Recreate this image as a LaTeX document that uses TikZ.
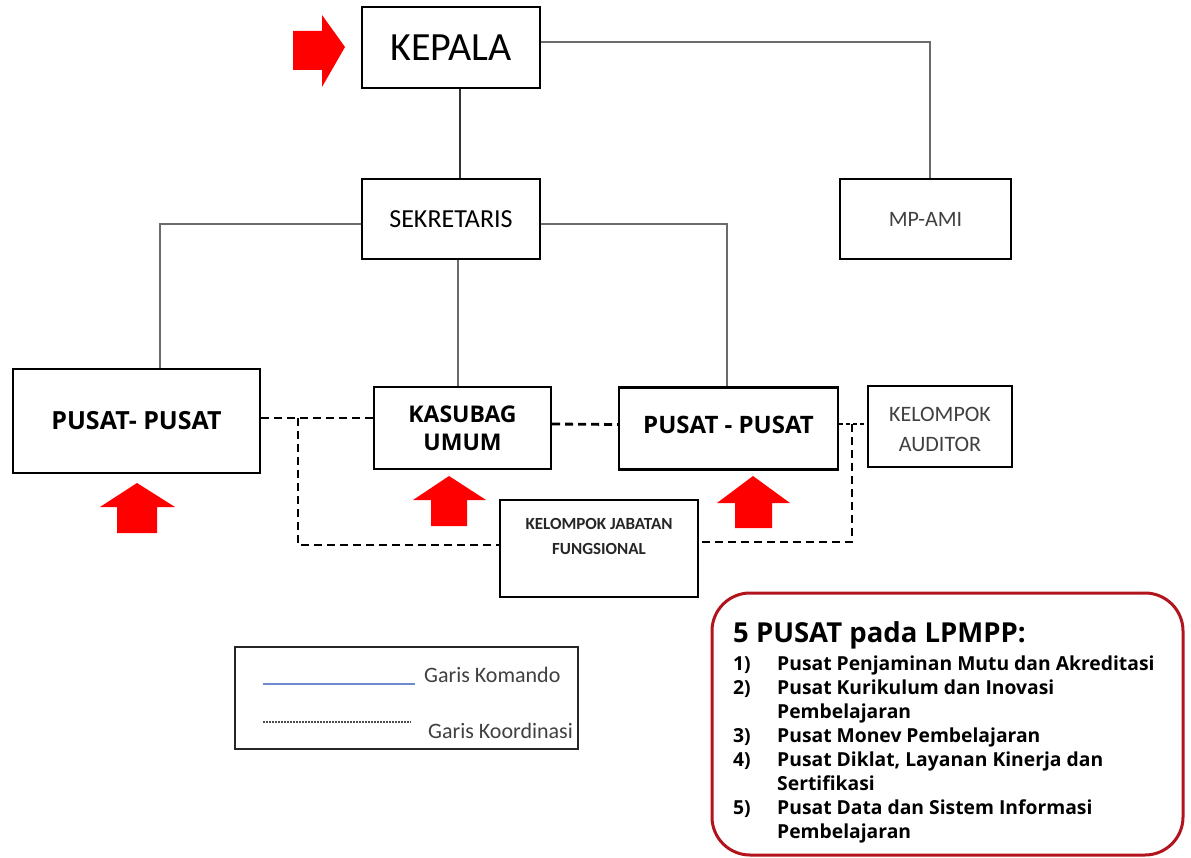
\documentclass[tikz,border=0pt]{standalone}
\usepackage{fontspec}
\setmainfont{Carlito}
\newfontfamily\osans{Open Sans}
\begin{document}
\begin{tikzpicture}[x=1pt,y=-1pt,
  box/.style={draw=black, line width=2.4pt, fill=white, inner sep=0pt, align=center},
  cmd/.style={draw=black!58, line width=1.8pt},
  koord/.style={draw=black, line width=2.8pt, dash pattern=on 8pt off 5pt},
  fine/.style={draw=black, line width=2.4pt, dash pattern=on 4pt off 3pt},
  redarrow/.style={fill=red, draw=none},
  lst/.style={anchor=base west, inner sep=0pt, font=\osans\bfseries\fontsize{19.3}{21}\selectfont},
  leg/.style={anchor=base west, inner sep=0pt, text=black!75, font=\fontsize{22}{24}\selectfont}]
\useasboundingbox (0,0) rectangle (1191,858);
\fill[white] (0,0) rectangle (1191,858);

% boxes
\node[box, minimum width=178pt, minimum height=81pt, font=\fontsize{40}{44}\selectfont] (kepala) at (451,47.5) {KEPALA};
\node[box, minimum width=178pt, minimum height=80pt, font=\fontsize{26}{30}\selectfont] (sek) at (451,219) {SEKRETARIS};
\node[box, minimum width=171pt, minimum height=80pt, font=\fontsize{22}{26}\selectfont, text=black!75] (mpami) at (925.5,219) {MP-AMI};
\node[box, minimum width=247pt, minimum height=104pt, font=\osans\bfseries\fontsize{25}{28}\selectfont] (pl) at (136.5,421) {PUSAT- PUSAT};
\node[box, minimum width=177pt, minimum height=82pt, font=\osans\bfseries\fontsize{23}{28}\selectfont] (kas) at (462.5,428) {KASUBAG\\UMUM};
\node[box, minimum width=219pt, minimum height=82pt, font=\osans\bfseries\fontsize{24}{28}\selectfont] (pr) at (728.5,428.5) {\raisebox{7pt}{PUSAT - PUSAT}};
\node[box, minimum width=144pt, minimum height=81pt, font=\fontsize{22}{30}\selectfont, text=black!75] (aud) at (940,426.5) {\raisebox{-9pt}[0pt][0pt]{\begin{tabular}{@{}c@{}}KELOMPOK\\[0pt]AUDITOR\end{tabular}}};
\node[box, minimum width=198pt, minimum height=97pt, font=\bfseries\fontsize{17}{25}\selectfont, text=black!85] (kjf) at (599,548.5) {\raisebox{6.75pt}[0pt][0pt]{\begin{tabular}{@{}c@{}}KELOMPOK JABATAN\\[0pt]FUNGSIONAL\end{tabular}}};

% command lines
\draw[cmd] ([yshift=5.5pt]kepala.east) -| ([xshift=4.5pt]mpami.north);
\draw[draw=black!80, line width=2.2pt] ([xshift=9pt]kepala.south) -- ([xshift=9pt]sek.north);
\draw[cmd] ([yshift=-5pt]sek.west) -| ([xshift=23.5pt]pl.north);
\draw[cmd] ([yshift=-5pt]sek.east) -| ([xshift=-1.5pt]pr.north);
\draw[cmd] ([xshift=7pt]sek.south) -- ([xshift=-4.5pt]kas.north);

% coordination lines
\coordinate (jl) at (298,418);
\coordinate (jr) at (852,424);
\draw[koord] ([yshift=3pt]pl.east) -- ([yshift=10pt]kas.west);
\draw[koord] (jl) -- (298,545) -- ([yshift=3.5pt]kjf.west);
\draw[koord] ([yshift=4pt]kas.east) -- ([yshift=4pt]pr.west);
\draw[fine] ([yshift=4.5pt]pr.east) -- ([yshift=2.5pt]aud.west);
\draw[koord] (jr) -- (852,542) -- ([yshift=6.5pt]kjf.east);

% red arrows
\fill[redarrow] (293,31) -- (322,31) -- (322,15) -- (345,47) -- (322,87) -- (322,70) -- (293,70) -- cycle;
\fill[redarrow] (137,483) -- (175,507) -- (157,507) -- (157,533) -- (117,533) -- (117,507) -- (100,507) -- cycle;
\fill[redarrow] (449,476) -- (486,500) -- (467,500) -- (467,526) -- (431,526) -- (431,500) -- (413,500) -- cycle;
\fill[redarrow] (753,476) -- (790,503) -- (772,503) -- (772,528) -- (735,528) -- (735,503) -- (717,503) -- cycle;

% legend
\draw[line width=2pt, draw=black!85] (235,647) rectangle (578,749);
\coordinate (lb1) at (263,684);
\coordinate (lb2) at (415,684);
\draw[line width=1.6pt, draw={rgb,255:red,110;green,140;blue,205}] (lb1) -- (lb2);
\coordinate (ld1) at (263,722);
\coordinate (ld2) at (411,722);
\draw[line width=1.4pt, draw=black!70, dash pattern=on 2pt off 1pt] (ld1) -- (ld2);
\node[leg] (lk) at (424,682) {Garis Komando};
\node[leg] (lkd) at (428,738) {Garis Koordinasi};

% info box
\draw[line width=3pt, draw={rgb,255:red,178;green,20;blue,30}, rounded corners=38pt] (712,593) rectangle (1183,855);
\node[anchor=base west, inner sep=0pt, font=\osans\bfseries\fontsize{27.5}{30}\selectfont] (title) at (733,642) {5 PUSAT pada LPMPP:};
\node[lst] (n1) at (733,670) {1)};
\node[lst] (t1) at (777,670) {Pusat Penjaminan Mutu dan Akreditasi};
\node[lst] (n2) at (733,694) {2)};
\node[lst] (t2) at (777,694) {Pusat Kurikulum dan Inovasi};
\node[lst] (t2b) at (777,718) {Pembelajaran};
\node[lst] (n3) at (733,742) {3)};
\node[lst] (t3) at (777,742) {Pusat Monev Pembelajaran};
\node[lst] (n4) at (733,766) {4)};
\node[lst] (t4) at (777,766) {Pusat Diklat, Layanan Kinerja dan};
\node[lst] (t4b) at (777,790) {Sertifikasi};
\node[lst] (n5) at (733,814) {5)};
\node[lst] (t5) at (777,814) {Pusat Data dan Sistem Informasi};
\node[lst] (t5b) at (777,838) {Pembelajaran};
\end{tikzpicture}
\end{document}
